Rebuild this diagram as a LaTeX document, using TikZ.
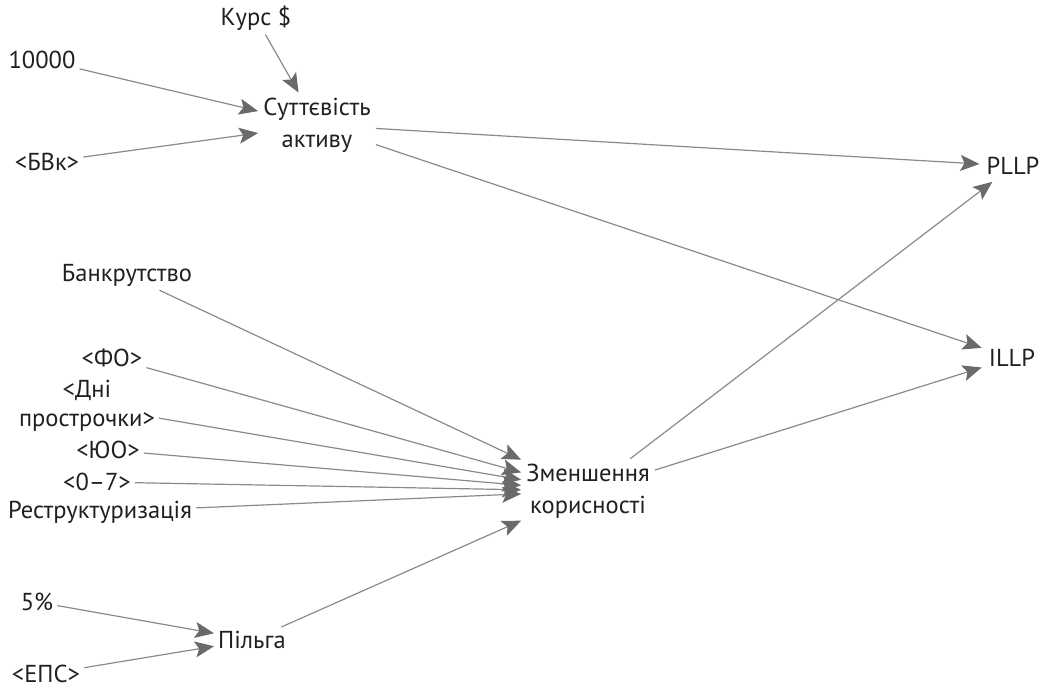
\documentclass[tikz,border=0pt]{standalone}
\usepackage{fontspec}
\setmainfont{PT Sans}
\usetikzlibrary{arrows.meta}
\definecolor{txt}{HTML}{231F20}
\definecolor{ln}{HTML}{8A8A8A}
\definecolor{hd}{HTML}{6A6A6A}
\tikzset{
  lbl/.style={text=txt, font=\fontsize{24.5}{32}\selectfont, inner sep=4pt, align=center},
  arr/.style={draw=ln, line width=1.2pt, -{Stealth[length=19pt,width=16pt,inset=4pt,color=hd]}},
}
\begin{document}
\begin{tikzpicture}[x=1pt,y=-1pt]
\useasboundingbox (0,0) rectangle (1043,688);
\node[lbl] (kurs) at (256,18) {Курс \$};
\node[lbl] (n10000) at (42,60) {10000};
\node[lbl] (bvk) at (47,162) {<БВк>};
\node[lbl, inner sep=5pt] (sut) at (317,125) {Суттєвість\\активу};
\node[lbl, inner sep=7pt] (pllp) at (1013,166) {PLLP};
\node[lbl, inner sep=7pt] (illp) at (1012,358) {ILLP};
\node[lbl] (bank) at (127,275) {Банкрутство};
\node[lbl] (fo) at (112,358) {<ФО>};
\node[lbl, font=\fontsize{24.5}{29}\selectfont] (dni) at (87,406) {<Дні\\прострочки>};
\node[lbl] (yuo) at (108,450) {<ЮО>};
\node[lbl] (z07) at (97,482) {<0–7>};
\node[lbl] (restr) at (100,512) {Реструктуризація};
\node[lbl, inner sep=5pt] (zm) at (588,491) {Зменшення\\корисності};
\node[lbl] (p5) at (37,602) {5\%};
\node[lbl] (pilga) at (252,640) {Пільга};
\node[lbl] (eps) at (46,674) {<ЕПС>};

\draw[arr] (kurs) -- (sut);
\draw[arr] (n10000) -- (sut);
\draw[arr] (bvk) -- (sut);
\draw[arr] (sut) -- (pllp);
\draw[arr] (sut) -- (illp);
\draw[arr] (bank) -- (zm);
\draw[arr] (fo) -- (zm);
\draw[arr] (dni) -- (zm);
\draw[arr] (yuo) -- (zm);
\draw[arr] (z07) -- (zm);
\draw[arr] (restr) -- (zm);
\draw[arr] (pilga) -- (zm);
\draw[arr] (p5) -- (pilga);
\draw[arr] (eps) -- (pilga);
\draw[arr] (zm) -- (pllp);
\draw[arr] (zm) -- (illp);
\end{tikzpicture}
\end{document}
